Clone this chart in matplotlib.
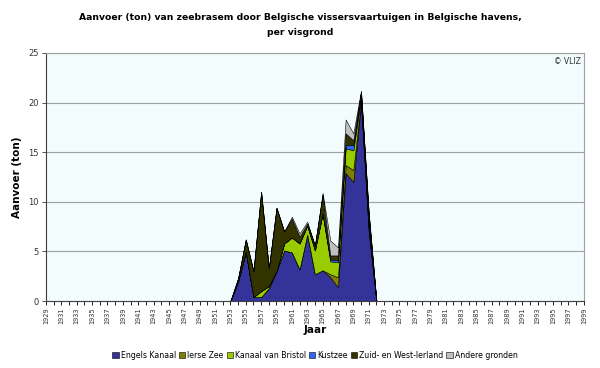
import matplotlib.pyplot as plt
import numpy as np

# Aanvoer per visgrond (ton), 1929-1999
years = list(range(1929, 2000))
data_years = list(range(1953, 1973))

engels_kanaal = [0, 2.0, 4.9, 0.4, 0.4, 1.3, 3.0, 5.1, 4.9, 3.2, 6.7, 2.7, 3.1, 2.4, 1.4, 12.9, 12.0, 19.9, 7.0, 0]
ierse_zee = [0, 0, 0.1, 0, 0, 0, 0, 0, 0, 0, 0, 0, 0, 0.3, 1.0, 0.8, 1.2, 0.3, 0.3, 0]
kanaal_bristol = [0, 0, 0, 0, 0.6, 0.2, 0, 0.7, 1.5, 2.6, 0.9, 2.4, 5.7, 1.3, 1.5, 1.7, 2.0, 0.3, 0.3, 0]
kustzee = [0, 0, 0, 0, 0, 0, 0, 0, 0, 0, 0, 0, 0, 0.2, 0.2, 0.3, 0.5, 0.3, 0.8, 0]
zuid_west_ierland = [0, 0.3, 1.2, 2.6, 10.0, 1.8, 6.4, 1.2, 1.9, 0.7, 0.2, 0.5, 1.9, 0.4, 0.5, 1.2, 0.5, 0.3, 0.4, 0]
andere_gronden = [0, 0, 0, 0, 0, 0, 0, 0, 0.2, 0.3, 0.2, 0, 0.2, 1.5, 0.8, 1.4, 0.7, 0.1, 0.2, 0]

labels = ['Engels Kanaal', 'Ierse Zee', 'Kanaal van Bristol', 'Kustzee',
          'Zuid- en West-Ierland', 'Andere gronden']
colors = ['#333399', '#808000', '#99CC00', '#3366FF', '#333300', '#C0C0C0']

plt.rcParams['font.family'] = ['Liberation Sans Narrow', 'DejaVu Sans']

fig = plt.figure(figsize=(6, 3.68), dpi=100)
ax = fig.add_axes([0.0767, 0.182, 0.8963, 0.674])
ax.set_facecolor('#F2FCFC')

# full year range, zero outside the data years
series = []
for s in [engels_kanaal, ierse_zee, kanaal_bristol, kustzee, zuid_west_ierland, andere_gronden]:
    full = np.zeros(len(years))
    for y, v in zip(data_years, s):
        full[years.index(y)] = v
    series.append(full)

ax.stackplot(years, *series, colors=colors, labels=labels,
             edgecolor='black', linewidth=0.4)

ax.set_xlim(1929, 1999)
ax.set_ylim(0, 25)
ax.set_yticks([0, 5, 10, 15, 20, 25])
ax.yaxis.grid(True, color='#A0A0A0', linewidth=0.8)
ax.set_axisbelow(True)

ax.set_xticks(years)
ax.set_xticklabels([str(y) if (y - 1929) % 2 == 0 else '' for y in years],
                   rotation=90, fontsize=4.8, color='#333333')
ax.tick_params(axis='x', length=3, width=0.6, pad=1.5)
ax.tick_params(axis='y', length=3, width=0.6, labelsize=6, colors='#333333', pad=2)

for side in ['top', 'right']:
    ax.spines[side].set_color('#A0A0A0')
    ax.spines[side].set_linewidth(0.8)
for side in ['left', 'bottom']:
    ax.spines[side].set_color('#404040')
    ax.spines[side].set_linewidth(0.8)

ax.set_xlabel('Jaar', fontsize=7.5, fontweight='bold')
ax.xaxis.set_label_coords(0.5, -0.095)
ax.set_ylabel('Aanvoer (ton)', fontsize=7.5, fontweight='bold')
ax.yaxis.set_label_coords(-0.045, 0.5)
fig.text(0.5, 0.932, 'Aanvoer (ton) van zeebrasem door Belgische vissersvaartuigen in Belgische havens,\nper visgrond',
         ha='center', va='center', fontsize=6.7, fontweight='bold', linespacing=1.9)
ax.text(0.995, 0.985, '© VLIZ', transform=ax.transAxes, ha='right', va='top',
        fontsize=5.5, color='#333333')

ax.legend(loc='center', bbox_to_anchor=(0.5, -0.22), ncol=6, frameon=False,
          fontsize=5.6, handlelength=0.8, handleheight=0.8, handletextpad=0.25,
          columnspacing=0.4)

plt.savefig('out.png', dpi=100)
